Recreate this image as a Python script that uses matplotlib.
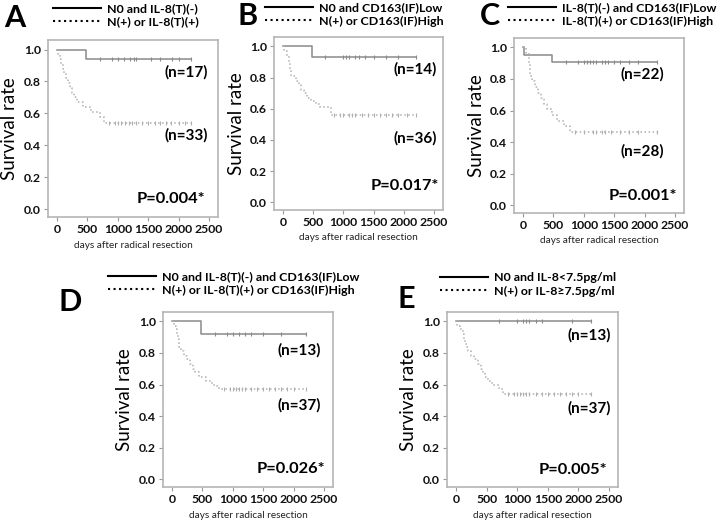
import numpy as np
import matplotlib.pyplot as plt
from matplotlib.lines import Line2D

plt.rcParams['font.family'] = ['Lato', 'DejaVu Sans']
plt.rcParams['font.weight'] = 'bold'

# --- data (days, survival after each event) ---
a_low_t = [470]
a_low_s = [0.94]
a_high_t = [20, 40, 65, 90, 120, 150, 180, 210, 240, 270, 330, 420, 560, 700, 780]
a_high_s = [0.97, 0.94, 0.91, 0.88, 0.85, 0.82, 0.79, 0.76, 0.73, 0.70, 0.67, 0.64, 0.61, 0.58, 0.54]
a_low_cens = [700, 900, 1000, 1100, 1200, 1260, 1300, 1550, 1700, 1900, 2000, 2200]
a_high_cens = [850, 950, 1000, 1050, 1120, 1180, 1230, 1300, 1400, 1500, 1620, 1700, 1800, 1880, 2000, 2100, 2200]

b_low_t = [480]
b_low_s = [0.93]
b_high_t = [20, 60, 100, 115, 130, 220, 260, 300, 340, 400, 460, 540, 620, 790]
b_high_s = [0.97, 0.94, 0.89, 0.85, 0.81, 0.78, 0.75, 0.72, 0.70, 0.67, 0.65, 0.63, 0.61, 0.56]
b_low_cens = [700, 1000, 1050, 1100, 1200, 1250, 1350, 1500, 1700, 1900, 2200]
b_high_cens = [850, 950, 1000, 1100, 1150, 1200, 1300, 1400, 1500, 1600, 1700, 1800, 1900, 2050, 2200]

c_low_t = [20, 480]
c_low_s = [0.955, 0.91]
c_high_t = [40, 90, 100, 110, 120, 150, 190, 250, 300, 340, 400, 470, 560, 680, 780]
c_high_s = [0.964, 0.929, 0.893, 0.857, 0.821, 0.786, 0.75, 0.714, 0.679, 0.643, 0.607, 0.571, 0.536, 0.50, 0.464]
c_low_cens = [700, 900, 1000, 1050, 1100, 1150, 1200, 1300, 1350, 1400, 1500, 1600, 1750, 1900, 2200]
c_high_cens = [850, 1000, 1150, 1200, 1300, 1350, 1450, 1600, 1750, 1900, 2200]

d_low_t = [480]
d_low_s = [0.92]
d_high_t = [30, 60, 80, 90, 110, 140, 200, 250, 300, 340, 380, 450, 550, 650, 720, 780]
d_high_s = [0.97, 0.95, 0.92, 0.89, 0.84, 0.81, 0.78, 0.76, 0.73, 0.70, 0.68, 0.65, 0.62, 0.60, 0.59, 0.57]
d_low_cens = [700, 900, 1000, 1100, 1200, 1300, 1500, 1800, 2200]
d_high_cens = [850, 950, 1000, 1050, 1100, 1150, 1200, 1300, 1400, 1500, 1600, 1700, 1800, 1900, 2000, 2200]

e_low_t = []
e_low_s = []
e_high_t = [20, 60, 110, 125, 140, 170, 200, 250, 300, 350, 400, 440, 480, 520, 580, 700, 770]
e_high_s = [0.97, 0.95, 0.92, 0.89, 0.86, 0.84, 0.81, 0.78, 0.76, 0.73, 0.70, 0.68, 0.65, 0.62, 0.60, 0.57, 0.54]
e_low_cens = [700, 1000, 1100, 1150, 1200, 1300, 1400, 1900, 2200]
e_high_cens = [850, 950, 1000, 1050, 1100, 1150, 1200, 1300, 1400, 1500, 1600, 1700, 1800, 1900, 2000, 2200]

last_day = 2200

panels = [
    dict(letter='A', low=(a_low_t, a_low_s, a_low_cens), high=(a_high_t, a_high_s, a_high_cens),
         leg=['N0 and IL-8(T)(-)', 'N(+) or IL-8(T)(+)'], n=['(n=17)', '(n=33)'], p='P=0.004*',
         rect=[48, 40, 218, 217], leg_xy=(53, 3), let_xy=(4, 4),
         n_y=[0.856, 0.46], n_x=[2480, 2480], p_y=0.06, p_x=2440),
    dict(letter='B', low=(b_low_t, b_low_s, b_low_cens), high=(b_high_t, b_high_s, b_high_cens),
         leg=['N0 and CD163(IF)Low', 'N(+) or CD163(IF)High'], n=['(n=14)', '(n=36)'], p='P=0.017*',
         rect=[274, 37, 443, 210], leg_xy=(265, 2), let_xy=(238, 2),
         n_y=[0.85, 0.41], n_x=[2550, 2550], p_y=0.107, p_x=2580),
    dict(letter='C', low=(c_low_t, c_low_s, c_low_cens), high=(c_high_t, c_high_s, c_high_cens),
         leg=['IL-8(T)(-) and CD163(IF)Low', 'IL-8(T)(+) or CD163(IF)High'], n=['(n=22)', '(n=28)'], p='P=0.001*',
         rect=[514, 38, 684, 213], leg_xy=(508, 2), let_xy=(480, 2),
         n_y=[0.827, 0.34], n_x=[2320, 2320], p_y=0.056, p_x=2530),
    dict(letter='D', low=(d_low_t, d_low_s, d_low_cens), high=(d_high_t, d_high_s, d_high_cens),
         leg=['N0 and IL-8(T)(-) and CD163(IF)Low', 'N(+) or IL-8(T)(+) or CD163(IF)High'], n=['(n=13)', '(n=37)'],
         p='P=0.026*', rect=[163, 312, 333, 487], leg_xy=(108, 271), let_xy=(58, 288),
         n_y=[0.82, 0.465], n_x=[2450, 2450], p_y=0.063, p_x=2530),
    dict(letter='E', low=(e_low_t, e_low_s, e_low_cens), high=(e_high_t, e_high_s, e_high_cens),
         leg=['N0 and IL-8<7.5pg/ml', 'N(+) or IL-8\u22657.5pg/ml'], n=['(n=13)', '(n=37)'], p='P=0.005*',
         rect=[447, 312, 618, 487], leg_xy=(440, 272), let_xy=(397, 285),
         n_y=[0.91, 0.45], n_x=[2530, 2530], p_y=0.056, p_x=2480),
]

W, H = 720, 528
fig = plt.figure(figsize=(7.2, 5.28), dpi=100)

low_col = '#8a8a8a'
high_col = '#b0b0b0'


def km_curve(times, surv):
    x = [0] + list(times) + [last_day]
    y = [1.0] + list(surv) + [surv[-1] if surv else 1.0]
    return x, y


def level_at(times, surv, t):
    s = 1.0
    for ti, si in zip(times, surv):
        if ti <= t:
            s = si
    return s


for pn in panels:
    l, t, r, b = pn['rect']
    ax = fig.add_axes([l / W, 1 - b / H, (r - l) / W, (b - t) / H])

    for grp, col, ls in [(pn['low'], low_col, '-'), (pn['high'], high_col, ':')]:
        tt, ss, cens = grp
        x, y = km_curve(tt, ss)
        ax.step(x, y, where='post', color=col, lw=1.1, ls=ls)
        cy = [level_at(tt, ss, c) for c in cens]
        ax.plot(cens, cy, ls='none', marker='|', ms=3, mew=0.8, color=col)

    ax.set_xlim(-150, 2650)
    ax.set_ylim(-0.05, 1.06)
    ax.set_xticks([0, 500, 1000, 1500, 2000, 2500])
    ax.set_yticks([0.0, 0.2, 0.4, 0.6, 0.8, 1.0])
    ax.set_yticklabels(['0.0', '0.2', '0.4', '0.6', '0.8', '1.0'])
    ax.tick_params(labelsize=8.8, length=3, width=0.8, color='#999999', pad=2, labelcolor='#111111')
    for sp in ax.spines.values():
        sp.set_color('#b5b5b5')
        sp.set_linewidth(1.2)
    ax.set_xlabel('days after radical resection', fontsize=7.2, labelpad=4, color='#222222')
    ax.set_ylabel('Survival rate', fontsize=13.5, labelpad=4)

    ax.text(pn['n_x'][0], pn['n_y'][0], pn['n'][0], ha='right', va='center', fontsize=11)
    ax.text(pn['n_x'][1], pn['n_y'][1], pn['n'][1], ha='right', va='center', fontsize=11)
    ax.text(pn['p_x'], pn['p_y'], pn['p'], ha='right', va='center', fontsize=11.8)

    handles = [Line2D([], [], color='black', lw=1.5, ls='-'),
               Line2D([], [], color='black', lw=1.5, ls=':')]
    ax.legend(handles, pn['leg'], loc='upper left', frameon=False, fontsize=8.9,
              bbox_to_anchor=(pn['leg_xy'][0] / W, 1 - pn['leg_xy'][1] / H),
              bbox_transform=fig.transFigure, borderpad=0, borderaxespad=0,
              handlelength=3.9, handletextpad=0.45, labelspacing=0.2)

    fig.text(pn['let_xy'][0] / W, 1 - pn['let_xy'][1] / H, pn['letter'],
             fontsize=22, fontweight='bold', va='top', ha='left')

fig.savefig('out.png', dpi=100)
